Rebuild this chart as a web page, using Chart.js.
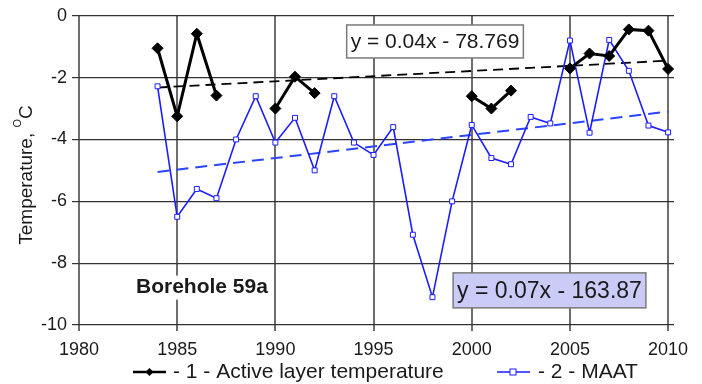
<!DOCTYPE html>
<html>
<head>
<meta charset="utf-8">
<script src="https://cdn.jsdelivr.net/npm/chart.js@4/dist/chart.umd.min.js"></script>
<style>
  html, body { margin: 0; padding: 0; background: #fff; }
</style>
</head>
<body>
<canvas id="chart" width="702" height="384"></canvas>
<script>
// data
var years = [1984, 1985, 1986, 1987, 1988, 1989, 1990, 1991, 1992, 1993, 1994, 1995, 1996, 1997,
             1998, 1999, 2000, 2001, 2002, 2003, 2004, 2005, 2006, 2007, 2008, 2009, 2010];
var activeLayer = [-1.05, -3.25, -0.58, -2.58, null, null, -3.0, -1.97, -2.5, null, null, null, null, null,
                   null, null, -2.6, -3.0, -2.42, null, null, -1.7, -1.22, -1.3, -0.44, -0.48, -1.72];
var maat = [-2.28, -6.5, -5.6, -5.9, -4.0, -2.6, -4.1, -3.3, -5.0, -2.6, -4.1, -4.5, -3.6, -7.08,
            -9.1, -6.0, -3.53, -4.6, -4.8, -3.27, -3.48, -0.8, -3.78, -0.78, -1.78, -3.55, -3.77];
var trendYears = [1984, 2010];
var activeTrend = [-2.32, -1.45];
var maatTrend = [-5.05, -3.1];
var xTicks = [1980, 1985, 1990, 1995, 2000, 2005, 2010];
var seriesNames = ["- 1 - Active layer temperature", "- 2 - MAAT"];
var eqActive = "y = 0.04x - 78.769";
var eqMaat = "y = 0.07x - 163.87";
var siteLabel = "Borehole 59a";

var FONT = "'Liberation Sans', Arial, sans-serif";
var BLUE = "#1c1cff";

function pts(xs, ys) {
  return xs.map(function (x, i) { return { x: x, y: ys[i] }; });
}

var extras = {
  id: "extras",
  afterDraw: function (chart) {
    var ctx = chart.ctx;
    var xs = chart.scales.x, ys = chart.scales.y;
    ctx.save();

    // y axis title with superscript O
    ctx.save();
    ctx.translate(32, 175);
    ctx.rotate(-Math.PI / 2);
    ctx.fillStyle = "#1a1a1a";
    ctx.textBaseline = "alphabetic";
    ctx.font = "19px " + FONT;
    var w1 = ctx.measureText("Temperature, ").width;
    var w2 = ctx.measureText("C").width;
    ctx.font = "11px " + FONT;
    var w3 = ctx.measureText("O").width;
    var sx = -(w1 + w2 + w3) / 2;
    ctx.font = "19px " + FONT;
    ctx.fillText("Temperature, ", sx, 0);
    ctx.font = "11px " + FONT;
    ctx.fillText("O", sx + w1, -11);
    ctx.font = "19px " + FONT;
    ctx.fillText("C", sx + w1 + w3, 0);
    ctx.restore();

    // equation boxes
    function box(text, xv, yv, size, fill) {
      ctx.font = size + "px " + FONT;
      var w = ctx.measureText(text).width;
      var cx = xs.getPixelForValue(xv), cy = ys.getPixelForValue(yv);
      var h = size + 12;
      ctx.fillStyle = fill;
      ctx.fillRect(cx - w / 2 - 4, cy - h / 2, w + 8, h);
      ctx.strokeStyle = "#7a7a7a";
      ctx.lineWidth = 1.5;
      ctx.strokeRect(cx - w / 2 - 4, cy - h / 2, w + 8, h);
      ctx.fillStyle = "#1a1a1a";
      ctx.textAlign = "center";
      ctx.textBaseline = "middle";
      ctx.fillText(text, cx, cy + 1);
    }
    box(eqActive, 1998.13, -0.83, 21, "#ffffff");
    box(eqMaat, 2003.96, -8.88, 23, "#cbcbf7");

    // site label
    ctx.font = "bold 21px " + FONT;
    var bw = ctx.measureText(siteLabel).width;
    var bx = xs.getPixelForValue(1986.26), by = ys.getPixelForValue(-8.79);
    ctx.fillStyle = "#ffffff";
    ctx.fillRect(bx - bw / 2 - 3, by - 12, bw + 6, 24);
    ctx.fillStyle = "#1a1a1a";
    ctx.textAlign = "center";
    ctx.textBaseline = "middle";
    ctx.fillText(siteLabel, bx, by);

    // legend
    var ly = 372;
    ctx.lineWidth = 2.5;
    ctx.strokeStyle = "#000";
    ctx.beginPath(); ctx.moveTo(133, ly); ctx.lineTo(166, ly); ctx.stroke();
    ctx.fillStyle = "#000";
    ctx.beginPath();
    ctx.moveTo(149.5, ly - 4); ctx.lineTo(153.5, ly); ctx.lineTo(149.5, ly + 4); ctx.lineTo(145.5, ly);
    ctx.closePath(); ctx.fill();

    ctx.lineWidth = 1.5;
    ctx.strokeStyle = BLUE;
    ctx.beginPath(); ctx.moveTo(497, ly); ctx.lineTo(530, ly); ctx.stroke();
    ctx.fillStyle = "#fff";
    ctx.fillRect(510, ly - 3, 6, 6);
    ctx.lineWidth = 1;
    ctx.strokeRect(510, ly - 3, 6, 6);

    ctx.font = "21px " + FONT;
    ctx.fillStyle = "#1a1a1a";
    ctx.textAlign = "left";
    ctx.textBaseline = "middle";
    ctx.fillText(seriesNames[0], 173, ly);
    ctx.fillText(seriesNames[1], 538, ly);

    ctx.restore();
  }
};

var chart = new Chart(document.getElementById("chart"), {
  type: "line",
  data: {
    datasets: [
      {
        label: seriesNames[0],
        data: pts(years, activeLayer),
        borderColor: "#000",
        backgroundColor: "#000",
        borderWidth: 3,
        pointStyle: "rectRot",
        pointRadius: 5.5,
        pointBorderWidth: 1,
        spanGaps: false
      },
      {
        label: seriesNames[1],
        data: pts(years, maat),
        borderColor: BLUE,
        backgroundColor: "#fff",
        borderWidth: 1.6,
        pointStyle: "rect",
        pointRadius: 3.5,
        pointBorderWidth: 1,
        spanGaps: false
      },
      {
        label: "trend 1",
        data: pts(trendYears, activeTrend),
        borderColor: "#000",
        borderWidth: 1.8,
        borderDash: [10, 6],
        pointRadius: 0
      },
      {
        label: "trend 2",
        data: pts(trendYears, maatTrend),
        borderColor: "#2a44ff",
        borderWidth: 2,
        borderDash: [12, 7],
        pointRadius: 0
      }
    ]
  },
  options: {
    responsive: false,
    animation: false,
    events: [],
    layout: { padding: { top: 12, right: 28, left: 0, bottom: 0 } },
    plugins: { legend: { display: false }, tooltip: { enabled: false } },
    scales: {
      x: {
        type: "linear",
        min: 1980,
        max: 2010.3,
        afterBuildTicks: function (s) { s.ticks = xTicks.map(function (v) { return { value: v }; }); },
        afterFit: function (s) { s.height = 59; },
        ticks: {
          autoSkip: false,
          maxRotation: 0,
          padding: 8,
          color: "#1a1a1a",
          font: { family: FONT, size: 18 },
          callback: function (v) { return String(v); }
        },
        grid: { color: "#6e6e6e", lineWidth: 2, tickLength: 6 },
        border: { display: false }
      },
      y: {
        min: -10,
        max: 0,
        afterFit: function (s) { s.width = 79; },
        ticks: {
          stepSize: 2,
          padding: 5,
          color: "#1a1a1a",
          font: { family: FONT, size: 18 },
          callback: function (v) { return String(v); }
        },
        grid: { color: "#333", lineWidth: 1.2, tickLength: 7 },
        border: { display: false }
      }
    }
  },
  plugins: [extras]
});
</script>
</body>
</html>
